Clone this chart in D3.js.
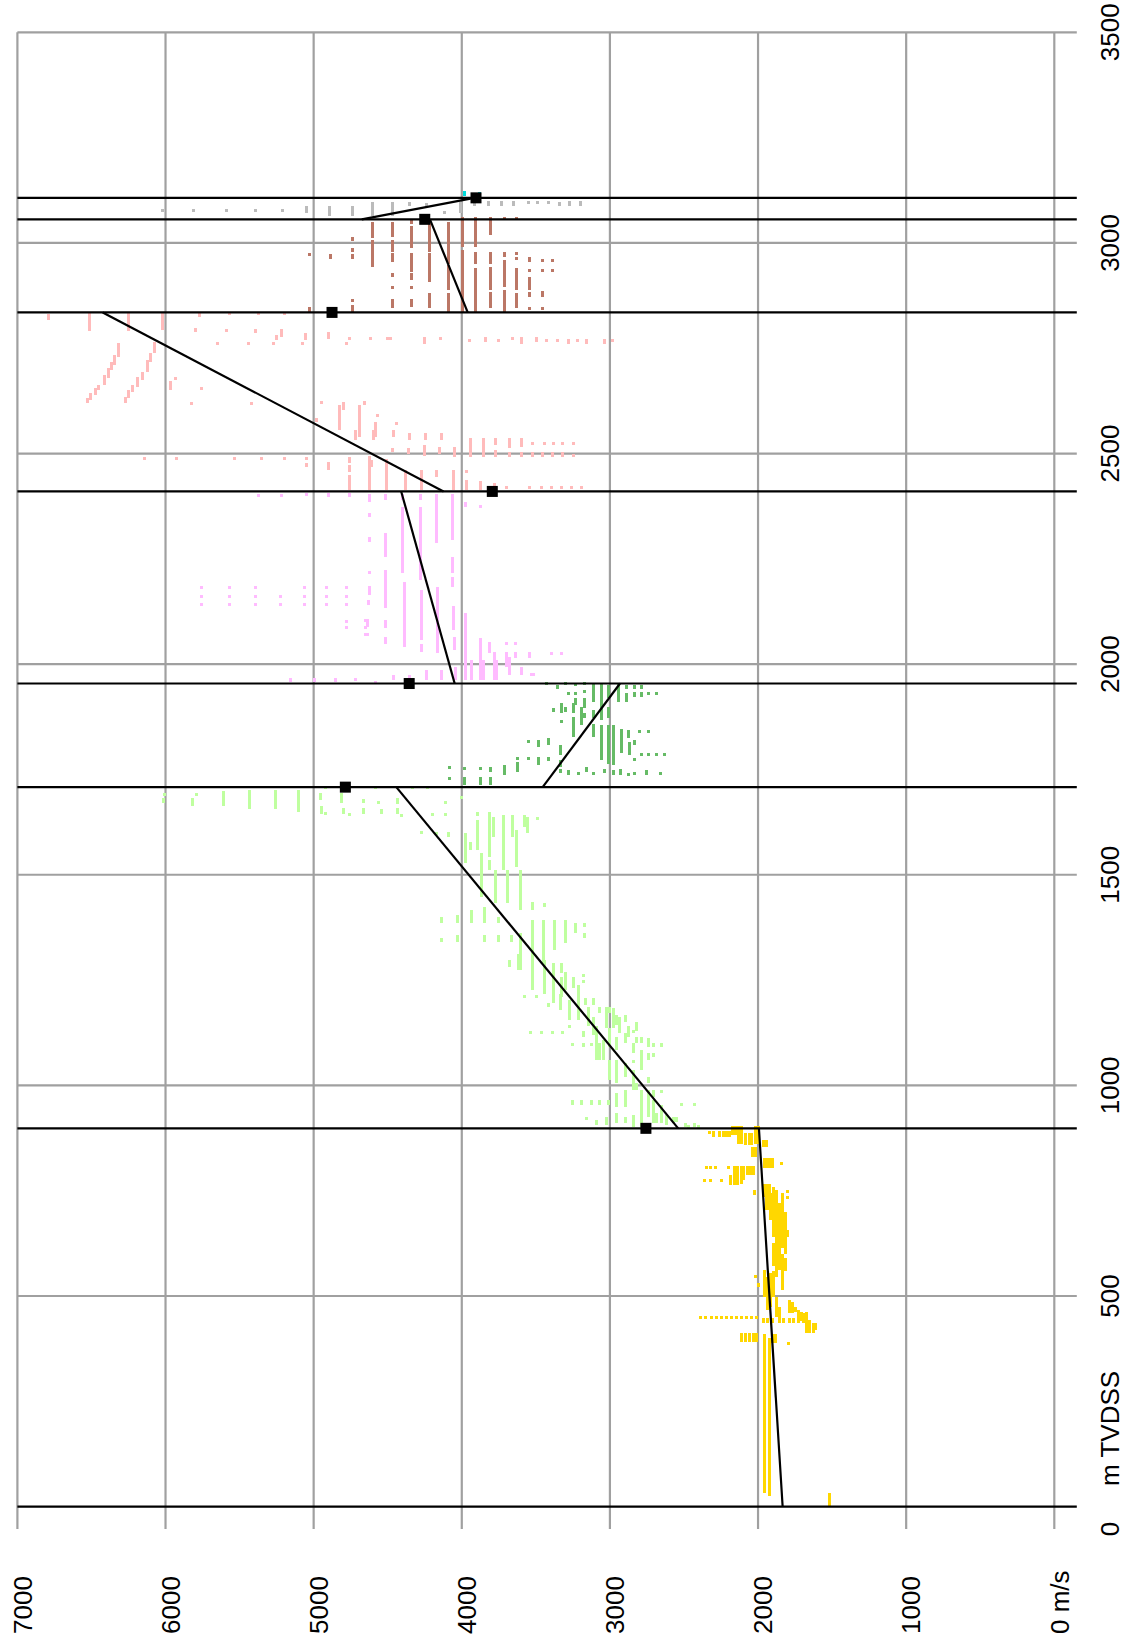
<!DOCTYPE html>
<html>
<head>
<meta charset="utf-8">
<script src="https://cdn.jsdelivr.net/npm/d3@7"></script>
<style>
  html, body { margin: 0; padding: 0; background: #ffffff; }
  svg { display: block; }
</style>
</head>
<body>
<svg id="chart" width="1127" height="1648"></svg>
<script>
// ---- axes ----
const velocityTicks = [0, 1000, 2000, 3000, 4000, 5000, 6000, 7000];
const velocityLabels = ["0 m/s", "1000", "2000", "3000", "4000", "5000", "6000", "7000"];
const depthTicks = [500, 1000, 1500, 2000, 2500, 3000, 3500];
const depthLabels = ["500", "1000", "1500", "2000", "2500", "3000", "3500"];

// ---- horizons (m TVDSS) and linear velocity trend per interval ----
const horizonDepths = [0, 898, 1708, 1954, 2410, 2835, 3056, 3107];
const trendVelShallow = [1834, 2539, 3454, 4048, 4123, 3960, 4675];
const trendVelDeep    = [1994, 4442, 2932, 4409, 6424, 4215, 3915];
const markerDepths     = [898, 1708, 1954, 2410, 2835, 3056, 3107];
const markerVelocities = [2757, 4786, 4355, 3794, 4876, 4250, 3904];

// ---- velocity samples per interval: [velocity m/s, depth from, depth to] ----
const unit1Samples = [
  [1520, 2, 32], [1955, 32, 410], [1920, 24, 400],
  [2325, 885, 892], [2300, 878, 892], [2257, 878, 892], [2235, 878, 892], [2215, 878, 892], [2195, 878, 892],
  [2170, 882, 903], [2150, 882, 903], [2135, 862, 903], [2115, 862, 903],
  [2085, 858, 886], [2060, 858, 886], [2045, 858, 886], [2040, 831, 854], [2020, 831, 854],
  [2015, 862, 903], [2000, 862, 903], [1960, 854, 870], [1945, 854, 870],
  [1955, 803, 827], [1935, 803, 827], [1915, 803, 827], [1900, 803, 827], [1845, 811, 817],
  [2345, 801, 809], [2320, 801, 809], [2290, 801, 809], [2200, 801, 809],
  [2160, 763, 809], [2140, 763, 809], [2115, 767, 809], [2095, 775, 809],
  [2070, 787, 809], [2050, 787, 809], [2030, 787, 809],
  [2360, 771, 778], [2320, 771, 778], [2245, 771, 778], [2185, 763, 787],
  [2025, 740, 752], [2020, 546, 550], [1995, 522, 530],
  [1960, 736, 767], [1945, 704, 767], [1925, 704, 767], [1955, 498, 562],
  [1935, 467, 546], [1915, 680, 744], [1915, 475, 554],
  [1895, 640, 759], [1895, 570, 625], [1895, 498, 560],
  [1875, 546, 752], [1875, 451, 498], [1855, 562, 720], [1855, 435, 475],
  [1835, 514, 600], [1835, 615, 744], [1815, 600, 700], [1815, 560, 590],
  [1800, 746, 752], [1800, 733, 738], [1800, 641, 657],
  [1790, 459, 490], [1770, 459, 485], [1750, 463, 475],
  [1730, 435, 467], [1710, 440, 463], [1690, 435, 459],
  [1670, 411, 463], [1650, 411, 443], [1625, 411, 435], [1610, 419, 435],
  [2390, 445, 453], [2355, 445, 453], [2315, 445, 453], [2280, 445, 453], [2245, 445, 453], [2210, 445, 453],
  [2180, 445, 453], [2145, 445, 453], [2110, 445, 453], [2075, 445, 453], [2045, 445, 453], [2010, 445, 453],
  [1965, 435, 447], [1935, 435, 447], [1905, 435, 447],
  [1825, 437, 447], [1790, 437, 447], [1760, 437, 447], [1730, 437, 447],
  [2115, 391, 411], [2085, 391, 411], [2055, 391, 411], [2030, 391, 411], [2010, 391, 411],
  [1905, 388, 410], [1885, 388, 410], [1796, 386, 391]
];

const unit2Samples = [
  [6015, 1670, 1683], [6005, 1686, 1693], [5815, 1663, 1683], [5790, 1688, 1693], [5610, 1663, 1700],
  [5430, 1656, 1702], [5260, 1656, 1702], [5100, 1648, 1702], [4955, 1678, 1693], [4950, 1644, 1663],
  [4920, 1644, 1650], [4920, 1704, 1710], [4810, 1670, 1693], [4800, 1644, 1658], [4760, 1639, 1646],
  [4665, 1670, 1680], [4665, 1644, 1658], [4580, 1704, 1710], [4560, 1670, 1676], [4545, 1644, 1655],
  [4435, 1667, 1683], [4435, 1644, 1658], [4410, 1639, 1644], [4330, 1704, 1710], [4230, 1704, 1710],
  [4275, 1598, 1604], [4195, 1640, 1646], [4172, 1594, 1602], [4111, 1672, 1676], [4111, 1640, 1646],
  [4087, 1590, 1602], [4003, 1682, 1686], [3975, 1527, 1598], [3942, 1559, 1578], [3895, 1640, 1650],
  [3895, 1559, 1630], [3870, 1448, 1551], [3815, 1543, 1650], [3815, 1511, 1535], [3785, 1590, 1638],
  [3775, 1432, 1511], [3720, 1511, 1642], [3690, 1432, 1511], [3655, 1590, 1642], [3630, 1519, 1606],
  [3605, 1416, 1511], [3575, 1614, 1642], [3557, 1598, 1638], [3520, 1416, 1436], [3492, 1630, 1638],
  [3441, 1424, 1432],
  [4135, 1385, 1400], [4135, 1341, 1349], [4030, 1385, 1404], [4030, 1341, 1357], [3935, 1385, 1416],
  [3846, 1385, 1424], [3846, 1341, 1357], [3754, 1385, 1400], [3754, 1341, 1357], [3665, 1341, 1357],
  [3605, 1274, 1361], [3520, 1274, 1393], [3448, 1290, 1393], [3376, 1321, 1393], [3303, 1337, 1393],
  [3231, 1361, 1385], [3171, 1377, 1385], [3171, 1349, 1361], [3677, 1282, 1294], [3617, 1274, 1313],
  [3680, 1291, 1297], [3605, 1286, 1321], [3520, 1226, 1313], [3440, 1218, 1298], [3380, 1195, 1290],
  [3325, 1266, 1290], [3325, 1210, 1258], [3575, 1209, 1214], [3494, 1209, 1214], [3415, 1187, 1195],
  [3335, 1179, 1218], [3303, 1226, 1270], [3270, 1155, 1203], [3270, 1140, 1143], [3247, 1230, 1258],
  [3215, 1155, 1238], [3180, 1258, 1264], [3180, 1242, 1250], [3180, 1116, 1128], [3180, 1092, 1100],
  [3168, 1191, 1207], [3146, 1140, 1187], [3112, 1191, 1207], [3112, 1120, 1163], [3090, 1060, 1140],
  [3067, 1171, 1187], [3067, 1060, 1100], [3045, 1060, 1108], [3022, 1136, 1187], [3000, 1171, 1187],
  [3000, 1092, 1136], [3000, 1013, 1060], [2977, 1136, 1183], [2955, 1143, 1167], [2955, 1084, 1116],
  [2955, 1005, 1060], [2955, 949, 981], [2932, 1124, 1163], [2898, 1151, 1167], [2898, 1100, 1124],
  [2898, 1021, 1052], [2898, 949, 989], [2898, 910, 926], [2876, 1116, 1140], [2842, 1124, 1132],
  [2842, 1076, 1100], [2842, 1052, 1060], [2842, 989, 1037], [2820, 1128, 1151], [2820, 1100, 1116],
  [2820, 989, 1005], [2786, 1100, 1116], [2786, 1037, 1084], [2786, 941, 989], [2741, 1092, 1112],
  [2741, 1060, 1076], [2741, 1005, 1021], [2741, 926, 989], [2707, 1092, 1100], [2707, 1068, 1076],
  [2707, 973, 989], [2707, 910, 965], [2651, 1092, 1100], [2651, 981, 989], [2651, 910, 953],
  [2572, 910, 926], [2516, 953, 957], [2493, 902, 910], [2426, 953, 957], [2426, 902, 910],
  [3539, 1124, 1128], [3461, 1124, 1128], [3389, 1124, 1128], [3319, 1124, 1128],
  [3252, 1096, 1100], [3123, 1096, 1100], [3067, 1096, 1100],
  [3252, 953, 965], [3191, 953, 965], [3123, 953, 965], [3067, 953, 965], [3011, 953, 965],
  [3157, 918, 926], [3090, 906, 918], [3022, 906, 926], [2955, 910, 934], [2842, 902, 930],
  [2786, 902, 949], [2685, 910, 934], [2617, 906, 930], [2550, 914, 926], [2470, 900, 906], [2400, 900, 906]
];

const unit3Samples = [
  [3430, 1950, 1958], [3355, 1942, 1950], [3300, 1954, 1958], [3280, 1931, 1935], [3230, 1950, 1956],
  [3230, 1931, 1935], [3230, 1903, 1919], [3170, 1950, 1958], [3170, 1931, 1939], [3170, 1895, 1919],
  [3170, 1871, 1883], [3110, 1911, 1954], [3110, 1871, 1891], [3110, 1828, 1859], [3055, 1867, 1954],
  [3055, 1772, 1855], [3010, 1919, 1950], [3010, 1871, 1899], [3010, 1764, 1855], [2975, 1760, 1855],
  [2945, 1911, 1954], [2920, 1788, 1847], [2885, 1942, 1950], [2885, 1911, 1931], [2865, 1784, 1816],
  [2835, 1942, 1950], [2835, 1923, 1935], [2835, 1808, 1820], [2835, 1772, 1776], [2785, 1942, 1950],
  [2785, 1923, 1935], [2785, 1784, 1788], [2740, 1927, 1935], [2740, 1839, 1843], [2740, 1784, 1788],
  [2685, 1931, 1935], [2685, 1784, 1788], [2630, 1784, 1788], [2797, 1839, 1843],
  [2875, 1824, 1843], [2930, 1737, 1752], [2975, 1737, 1749], [3035, 1741, 1752], [3110, 1737, 1745],
  [3155, 1745, 1756], [3215, 1737, 1745], [3280, 1737, 1749], [3335, 1784, 1808], [3335, 1756, 1772],
  [3335, 1741, 1752], [3415, 1808, 1824], [3415, 1769, 1780], [3485, 1804, 1820], [3485, 1760, 1780],
  [3550, 1812, 1820], [3550, 1772, 1780], [3625, 1776, 1780], [3625, 1745, 1768], [3715, 1737, 1760],
  [3805, 1745, 1756], [3805, 1713, 1733], [3875, 1749, 1756], [3875, 1713, 1733], [3980, 1749, 1756],
  [3980, 1713, 1733], [4080, 1752, 1758], [4080, 1729, 1733], [3380, 1887, 1895], [3325, 1883, 1907],
  [3325, 1860, 1868], [3300, 1887, 1899], [3245, 1883, 1907], [3245, 1828, 1875], [3190, 1855, 1899],
  [2660, 1737, 1745], [2750, 1737, 1749], [2835, 1737, 1745], [2875, 1737, 1741]
];

const unit4Samples = [
  [5375, 2397, 2404], [5215, 2397, 2404], [5050, 2402, 2406], [4900, 2397, 2406], [4760, 2397, 2406],
  [4620, 2386, 2405], [4620, 2349, 2358], [4625, 2291, 2301], [4625, 2216, 2222], [4625, 2164, 2185],
  [4630, 2140, 2152], [4635, 2089, 2106], [4635, 2069, 2073],
  [4515, 2390, 2405], [4515, 2255, 2311], [4515, 2133, 2224], [4515, 2085, 2105], [4515, 2049, 2065],
  [4400, 2390, 2405], [4400, 2216, 2374], [4390, 2041, 2196],
  [4280, 2390, 2405], [4280, 2200, 2374], [4275, 2057, 2176], [4275, 2030, 2049],
  [4170, 2287, 2405], [4165, 2026, 2184],
  [4060, 2295, 2405], [4060, 2216, 2255], [4060, 2184, 2208], [4055, 2081, 2137], [4050, 2033, 2065],
  [3975, 2374, 2386], [3975, 1962, 2121], [3875, 2374, 2378], [3875, 1962, 2061],
  [3810, 2026, 2053], [3780, 1962, 2030], [3700, 2049, 2053], [3700, 1994, 2030], [3675, 1974, 2018],
  [3635, 2049, 2053], [3635, 2014, 2030], [3595, 1974, 1994], [3540, 2014, 2030], [3515, 1974, 1980],
  [3395, 2026, 2030], [3325, 2026, 2030],
  [5760, 2181, 2186], [5760, 2160, 2165], [5760, 2140, 2145],
  [5570, 2181, 2186], [5570, 2160, 2165], [5570, 2140, 2145],
  [5390, 2181, 2186], [5390, 2160, 2165], [5390, 2140, 2145],
  [5225, 2160, 2165], [5225, 2140, 2145],
  [5060, 2181, 2186], [5060, 2160, 2165], [5060, 2140, 2145],
  [4915, 2181, 2186], [4915, 2160, 2165], [4915, 2140, 2145],
  [4780, 2181, 2186], [4780, 2160, 2165], [4780, 2140, 2145], [4780, 2099, 2104], [4780, 2086, 2090],
  [4650, 2099, 2106], [4650, 2086, 2090], [4650, 2069, 2073],
  [5155, 1958, 1966], [4995, 1958, 1966], [4850, 1958, 1966], [4715, 1962, 1968], [4580, 1956, 1960],
  [4460, 1962, 1974], [4350, 1966, 1974], [4240, 1962, 1986], [4135, 1962, 1986], [4040, 1962, 1994],
  [3933, 1962, 2010], [3855, 1962, 2010], [3765, 1962, 2010], [3528, 1974, 1978]
];

const unit5Samples = [
  [6790, 2817, 2831], [6510, 2790, 2835], [6250, 2790, 2835], [6020, 2793, 2835], [5770, 2825, 2835],
  [5800, 2789, 2797], [5570, 2828, 2835], [5370, 2828, 2835], [5200, 2828, 2835],
  [6320, 2730, 2763], [6345, 2710, 2734], [6365, 2698, 2718], [6385, 2679, 2702], [6410, 2663, 2686],
  [6450, 2651, 2663], [6475, 2639, 2655], [6505, 2627, 2643], [6525, 2619, 2631],
  [6075, 2738, 2765], [6100, 2718, 2738], [6125, 2694, 2722], [6155, 2675, 2694], [6190, 2659, 2682],
  [6220, 2647, 2663], [6250, 2631, 2651], [6270, 2619, 2635],
  [5930, 2675, 2681], [5965, 2651, 2671], [5825, 2619, 2623], [5760, 2653, 2658], [5420, 2619, 2623],
  [5650, 2759, 2765], [5590, 2789, 2795], [5440, 2759, 2765], [5390, 2785, 2795], [5270, 2759, 2765],
  [5250, 2769, 2781], [5215, 2777, 2795], [5075, 2759, 2765], [5055, 2769, 2787], [4900, 2771, 2789],
  [4775, 2759, 2765], [4760, 2771, 2777], [4615, 2771, 2777], [4500, 2771, 2777], [4480, 2771, 2777],
  [4255, 2759, 2777], [4145, 2771, 2777], [3945, 2765, 2771], [3840, 2765, 2777], [3755, 2765, 2771],
  [3660, 2771, 2777], [3595, 2759, 2777], [3495, 2765, 2777], [3430, 2765, 2771], [3355, 2765, 2771],
  [3280, 2759, 2771], [3220, 2765, 2771], [3160, 2759, 2771], [3035, 2759, 2771], [2980, 2765, 2771],
  [4950, 2619, 2624], [4980, 2576, 2584], [4825, 2556, 2615], [4800, 2603, 2623], [4690, 2540, 2615],
  [4660, 2615, 2625], [4715, 2532, 2556], [4570, 2587, 2595], [4580, 2540, 2576], [4595, 2532, 2556],
  [4440, 2568, 2576], [4460, 2540, 2556], [4350, 2532, 2548], [4245, 2532, 2548], [4135, 2532, 2548],
  [4470, 2504, 2512], [4360, 2500, 2512], [4255, 2494, 2520], [4150, 2500, 2516], [4050, 2492, 2516],
  [3940, 2492, 2536], [3855, 2492, 2536], [3770, 2520, 2536], [3770, 2492, 2508], [3680, 2512, 2536],
  [3680, 2492, 2504], [3600, 2516, 2536], [3600, 2492, 2504], [3520, 2520, 2528], [3520, 2492, 2504],
  [3440, 2524, 2528], [3455, 2492, 2504], [3380, 2520, 2528], [3385, 2492, 2504], [3320, 2520, 2528],
  [3320, 2492, 2504], [3245, 2520, 2528], [3245, 2492, 2500],
  [6145, 2486, 2491], [5925, 2486, 2491], [5535, 2486, 2491], [5355, 2486, 2491], [5195, 2486, 2491],
  [5050, 2486, 2492], [5050, 2469, 2477], [4900, 2461, 2481], [4760, 2413, 2450], [4760, 2456, 2472],
  [4760, 2478, 2492], [4625, 2413, 2494], [4610, 2469, 2485], [4505, 2413, 2488], [4380, 2413, 2461],
  [4275, 2413, 2461], [4170, 2445, 2461], [4055, 2413, 2461], [3970, 2453, 2461], [3970, 2413, 2437],
  [3875, 2413, 2435], [3780, 2413, 2429], [3700, 2418, 2423], [3540, 2418, 2423], [3460, 2418, 2423],
  [3395, 2418, 2423], [3325, 2418, 2423], [3260, 2418, 2423], [3195, 2418, 2423]
];

const unit6Samples = [
  [5030, 2972, 2977], [5030, 2837, 2849], [4885, 2961, 2974],
  [4740, 3005, 3013], [4740, 2979, 2987], [4740, 2961, 2974], [4740, 2860, 2866], [4740, 2837, 2853],
  [4600, 3011, 3050], [4600, 2942, 3007],
  [4465, 3015, 3050], [4465, 2979, 3007], [4465, 2955, 2977], [4465, 2920, 2928], [4465, 2891, 2898], [4465, 2845, 2868],
  [4340, 3046, 3056], [4340, 2987, 3039], [4340, 2932, 2975], [4340, 2912, 2928], [4340, 2891, 2898], [4340, 2849, 2868],
  [4220, 2979, 3056], [4220, 2908, 2975], [4220, 2845, 2880],
  [4090, 2951, 3050], [4090, 2888, 2947], [4090, 2837, 2880],
  [3995, 2991, 3062], [3995, 2837, 2983],
  [3910, 2991, 3062], [3910, 2951, 2979], [3910, 2837, 2940],
  [3805, 3019, 3062], [3805, 2951, 2979], [3805, 2888, 2942], [3805, 2845, 2884],
  [3710, 3056, 3062], [3710, 2967, 2979], [3710, 2896, 2959], [3710, 2837, 2888],
  [3630, 3056, 3062], [3630, 2971, 2979], [3630, 2959, 2967], [3630, 2888, 2940], [3630, 2845, 2880],
  [3540, 2955, 2967], [3540, 2932, 2937], [3540, 2888, 2920], [3540, 2872, 2884], [3540, 2845, 2849],
  [3455, 2955, 2961], [3455, 2932, 2937], [3455, 2872, 2886], [3455, 2845, 2849],
  [3385, 2955, 2961], [3385, 2932, 2937]
];

const unit7Samples = [
  [6020, 3076, 3081], [5810, 3076, 3081], [5590, 3076, 3081], [5390, 3076, 3081], [5210, 3076, 3081],
  [5050, 3070, 3088], [4890, 3064, 3088], [4740, 3064, 3088], [4600, 3064, 3096], [4470, 3064, 3096],
  [4350, 3088, 3096], [4240, 3088, 3094], [4115, 3070, 3076], [4010, 3070, 3096], [3915, 3088, 3100],
  [3820, 3088, 3100], [3735, 3088, 3100], [3650, 3088, 3100], [3550, 3094, 3100], [3490, 3094, 3100],
  [3415, 3094, 3100], [3340, 3088, 3096], [3275, 3088, 3100], [3200, 3088, 3100]
];

const unit8Samples = [[3980, 3112, 3124], [3880, 3112, 3122]];

const unitSamples = [unit1Samples, unit2Samples, unit3Samples, unit4Samples,
                     unit5Samples, unit6Samples, unit7Samples, unit8Samples];
const unitColors = ["#ffd700", "#bfff9f", "#66bb66", "#ffbbff",
                    "#ffbbbb", "#bb7766", "#bbbbbb", "#00dddd"];

// ---- layout ----
const svg = d3.select("#chart");
const x = d3.scaleLinear().domain([7000, 0]).range([17.4, 1054.3]);
const y = d3.scaleLinear().domain([0, 3500]).range([1506.6, 32.3]);
const tickExt = 22.5;
const gridColor = "#a0a0a0";
const fontFamily = "'Liberation Sans', Arial, Helvetica, sans-serif";

// grid: velocity lines run the full depth range plus a tick extension below
svg.append("g").selectAll("line").data(velocityTicks).join("line")
  .attr("x1", d => x(d)).attr("x2", d => x(d))
  .attr("y1", y(3500)).attr("y2", y(0) + tickExt)
  .attr("stroke", gridColor).attr("stroke-width", 2.2);

svg.append("g").selectAll("line").data(depthTicks).join("line")
  .attr("x1", x(7000)).attr("x2", x(0) + tickExt)
  .attr("y1", d => y(d)).attr("y2", d => y(d))
  .attr("stroke", gridColor).attr("stroke-width", 2.2);

// velocity samples
const samplesG = svg.append("g").attr("shape-rendering", "crispEdges");
unitSamples.forEach((rows, i) => {
  samplesG.append("g").attr("fill", unitColors[i])
    .selectAll("rect").data(rows).join("rect")
    .attr("x", d => x(d[0]) - 1.5)
    .attr("y", d => y(d[2]))
    .attr("width", 3)
    .attr("height", d => Math.max(3, y(d[1]) - y(d[2])));
});

// horizons
svg.append("g").selectAll("line").data(horizonDepths).join("line")
  .attr("x1", x(7000)).attr("x2", x(0) + tickExt)
  .attr("y1", d => y(d)).attr("y2", d => y(d))
  .attr("stroke", "#000").attr("stroke-width", 2.2);

// interval velocity trends
const trends = trendVelShallow.map((v, i) => ({
  v0: v, v1: trendVelDeep[i], d0: horizonDepths[i], d1: horizonDepths[i + 1]
}));
svg.append("g").selectAll("line").data(trends).join("line")
  .attr("x1", d => x(d.v0)).attr("y1", d => y(d.d0))
  .attr("x2", d => x(d.v1)).attr("y2", d => y(d.d1))
  .attr("stroke", "#000").attr("stroke-width", 2.2);

// horizon velocity markers
svg.append("g").selectAll("rect").data(markerDepths).join("rect")
  .attr("x", (d, i) => x(markerVelocities[i]) - 5.5)
  .attr("y", d => y(d) - 5.5)
  .attr("width", 11).attr("height", 11)
  .attr("fill", "#000");

// velocity labels (rotated)
svg.append("g").selectAll("text").data(velocityTicks).join("text")
  .attr("transform", d => `translate(${x(d) + 14.3},1634) rotate(-90)`)
  .attr("text-anchor", "start")
  .attr("font-family", fontFamily).attr("font-size", 26).attr("fill", "#000")
  .text((d, i) => velocityLabels[i]);

// depth labels (rotated)
svg.append("g").selectAll("text").data(depthTicks).join("text")
  .attr("transform", d => `translate(1118.5,${y(d)}) rotate(-90)`)
  .attr("text-anchor", "middle")
  .attr("font-family", fontFamily).attr("font-size", 26).attr("fill", "#000")
  .text((d, i) => depthLabels[i]);

svg.append("text")
  .attr("transform", `translate(1118.5,${y(0) + tickExt}) rotate(-90)`)
  .attr("text-anchor", "middle")
  .attr("font-family", fontFamily).attr("font-size", 26).attr("fill", "#000")
  .text("0");

svg.append("text")
  .attr("transform", `translate(1118.5,1486) rotate(-90)`)
  .attr("text-anchor", "start")
  .attr("font-family", fontFamily).attr("font-size", 26).attr("fill", "#000")
  .text("m TVDSS");
</script>
</body>
</html>
